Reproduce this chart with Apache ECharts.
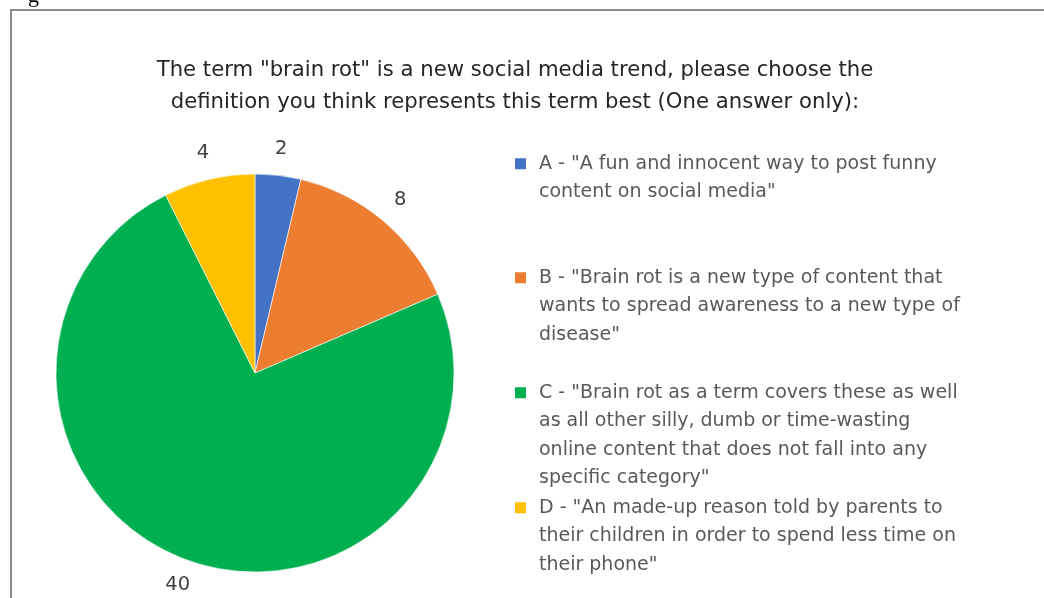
<!DOCTYPE html>
<html>
<head>
<meta charset="utf-8">
<script src="https://cdn.jsdelivr.net/npm/echarts@6/dist/echarts.min.js"></script>
<style>
  html, body { margin: 0; padding: 0; background: #ffffff; }
  #chart { width: 1044px; height: 598px; }
</style>
</head>
<body>
<div id="chart"></div>
<script>
// Survey answers: definition of "brain rot"
const titleLines = [
  'The term "brain rot" is a new social media trend, please choose the',
  'definition you think represents this term best (One answer only):'
];

const categories = [
  'A - "A fun and innocent way to post funny\ncontent on social media"',
  'B - "Brain rot is a new type of content that\nwants to spread awareness to a new type of\ndisease"',
  'C - "Brain rot as a term covers these as well\nas all other silly, dumb or time-wasting\nonline content that does not fall into any\nspecific category"',
  'D - "An made-up reason told by parents to\ntheir children in order to spend less time on\ntheir phone"'
];

const responses = [2, 8, 40, 4];

const sliceColors = ['#4472C4', '#ED7D31', '#00B050', '#FFC000'];

const FONT = '"DejaVu Sans", sans-serif';
const LEGEND_LINE = 28.5;
const legendTops = [149.5, 263.5, 378.5, 493.5];

const chart = echarts.init(document.getElementById('chart'), null, { renderer: 'canvas' });

// Each legend entry gets its own block; the square marker sits level with
// the first line of the wrapped text, the box keeps the full text height.
const legends = categories.map((name, i) => {
  const lines = name.split('\n').length;
  const h = lines * LEGEND_LINE;
  const sq = 11;
  const y0 = LEGEND_LINE / 2 - sq / 2;
  return {
    data: [name],
    left: 515,
    top: legendTops[i],
    orient: 'vertical',
    padding: 0,
    icon: 'path://M0,0L' + sq + ',0M0,' + y0 + 'h' + sq + 'v' + sq + 'h-' + sq + 'zM0,' + h + 'L' + sq + ',' + h,
    itemWidth: sq,
    itemHeight: h,
    itemStyle: { borderWidth: 0 },
    selectedMode: false,
    textStyle: {
      fontFamily: FONT,
      fontSize: 19,
      color: '#595959',
      lineHeight: LEGEND_LINE,
      padding: [0, 0, 0, 8]
    }
  };
});

chart.setOption({
  animation: false,
  backgroundColor: '#ffffff',
  color: sliceColors,
  title: {
    text: titleLines.join('\n'),
    left: 510,
    top: 49,
    textAlign: 'center',
    textStyle: {
      fontFamily: FONT,
      fontSize: 21.2,
      fontWeight: 'normal',
      color: '#262626',
      lineHeight: 32
    }
  },
  legend: legends,
  graphic: [
    {
      type: 'polyline',
      shape: { points: [[11, 600], [11, 10], [1046, 10]] },
      style: { stroke: '#8a8a8a', lineWidth: 2, fill: null },
      silent: true
    },
    {
      type: 'text',
      x: 28,
      y: -15,
      style: {
        text: 'g',
        font: '22px "Liberation Serif", serif',
        fill: '#000000'
      },
      silent: true
    }
  ],
  series: [
    {
      type: 'pie',
      center: [255, 373],
      radius: 199,
      startAngle: 90,
      clockwise: true,
      avoidLabelOverlap: false,
      data: categories.map((name, i) => ({ name: name, value: responses[i] })),
      itemStyle: { borderColor: '#ffffff', borderWidth: 0.6 },
      label: {
        show: true,
        position: 'outside',
        formatter: '{c}',
        fontFamily: FONT,
        fontSize: 19.5,
        color: '#404040',
        distanceToLabelLine: 0
      },
      labelLine: { show: false, length: 27, length2: 0 },
      labelLayout: { align: 'center', verticalAlign: 'middle' },
      emphasis: { disabled: true }
    }
  ]
});
</script>
</body>
</html>
